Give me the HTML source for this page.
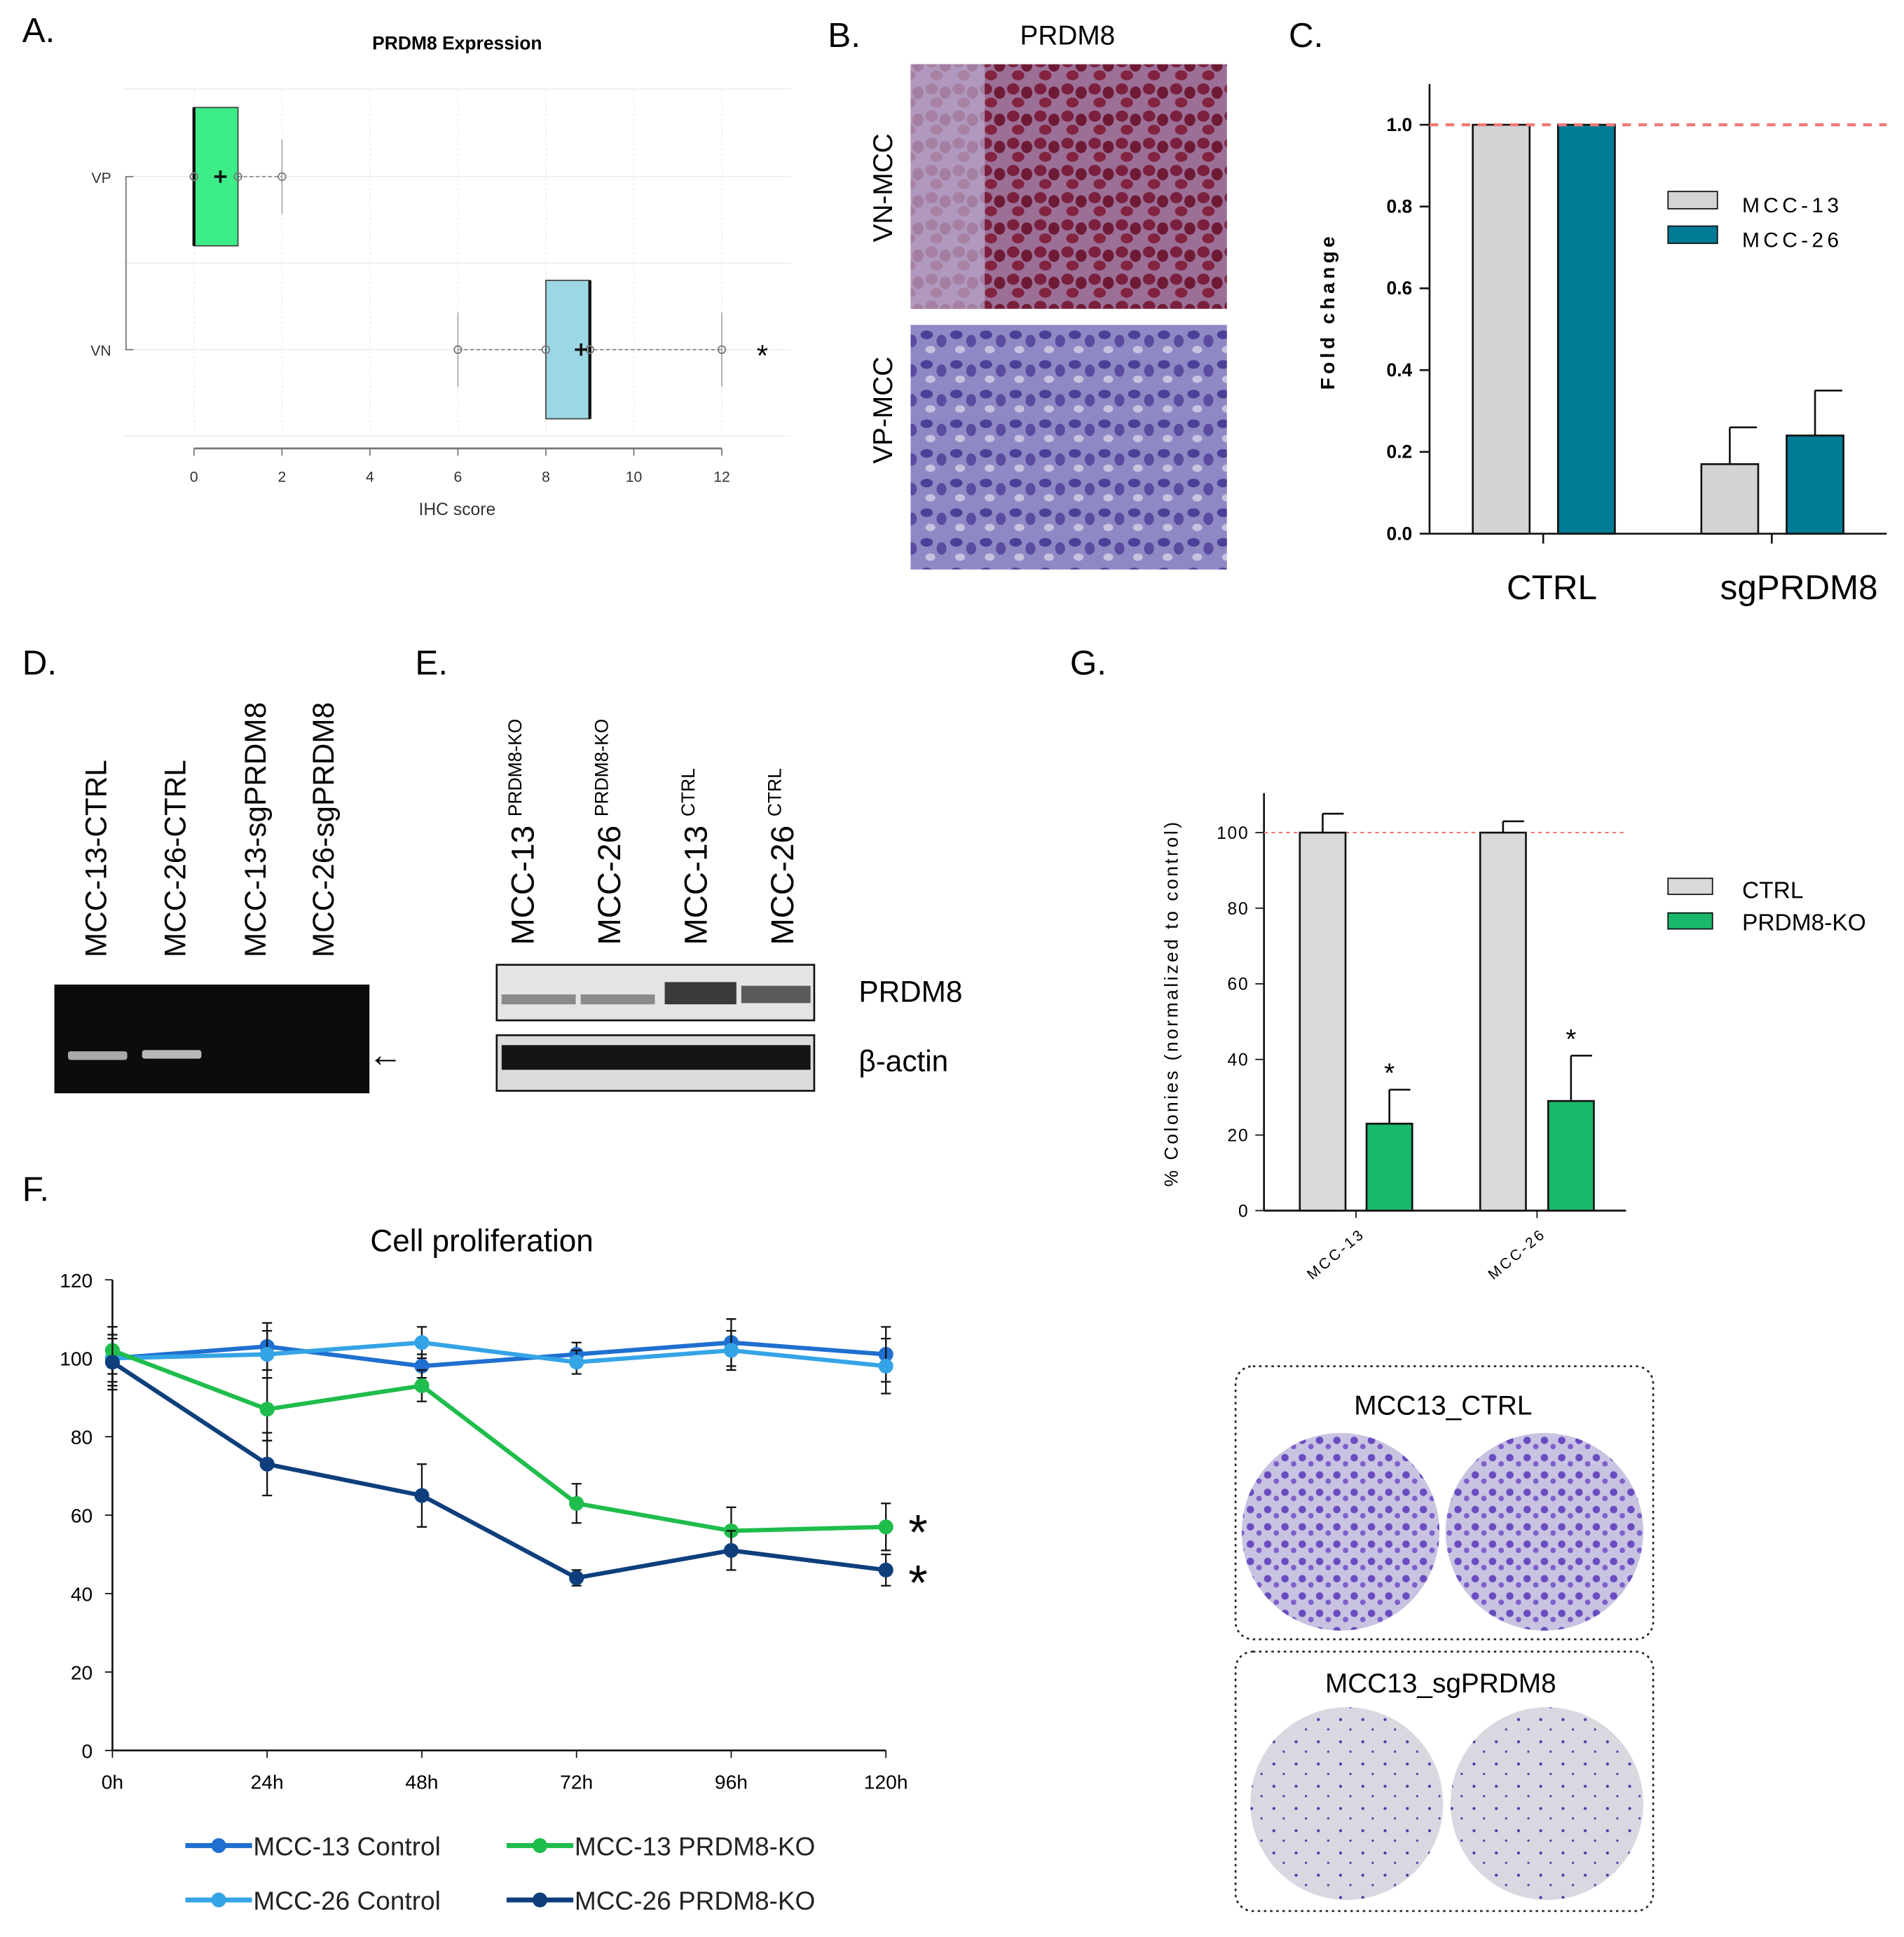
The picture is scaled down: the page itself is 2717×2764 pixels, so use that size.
<!DOCTYPE html>
<html><head><meta charset="utf-8">
<style>
html,body{margin:0;padding:0;background:#fff;}
svg{display:block;font-family:"Liberation Sans",sans-serif;}
</style></head>
<body>
<svg id="fig" width="2717" height="2764" viewBox="0 0 1541 1568" preserveAspectRatio="none" xmlns="http://www.w3.org/2000/svg">
<defs>
<pattern id="vnTissue" width="22" height="22" patternUnits="userSpaceOnUse">
<rect width="22" height="22" fill="#9c6f96"/>
<ellipse cx="6" cy="6" rx="5" ry="4.5" fill="#7a1f3d"/>
<ellipse cx="17" cy="9" rx="4.5" ry="5" fill="#6e1a35"/>
<ellipse cx="10" cy="17" rx="5" ry="4" fill="#82233f"/>
</pattern>
<pattern id="vpTissue" width="24" height="24" patternUnits="userSpaceOnUse">
<rect width="24" height="24" fill="#8e89c4"/>
<ellipse cx="6" cy="7" rx="5" ry="3.5" fill="#4b3f98"/>
<ellipse cx="18" cy="12" rx="4" ry="5" fill="#5a4aa0"/>
<ellipse cx="9" cy="19" rx="4" ry="3" fill="#c8c2e0"/>
</pattern>
<pattern id="colCtrl" width="14" height="14" patternUnits="userSpaceOnUse">
<rect width="14" height="14" fill="#c9c3e2"/>
<circle cx="4" cy="4" r="3" fill="#6a4cc0"/>
<circle cx="11" cy="9" r="2.2" fill="#7d5fcc"/>
</pattern>
<pattern id="colKO" width="18" height="18" patternUnits="userSpaceOnUse">
<rect width="18" height="18" fill="#d8d8e0"/>
<circle cx="5" cy="6" r="1.2" fill="#4a3aa8"/>
<circle cx="13" cy="14" r="0.9" fill="#4a3aa8"/>
</pattern>
</defs>

<text x="18" y="34" font-size="28">A.</text>
<text x="670" y="38" font-size="28">B.</text>
<text x="1043" y="38" font-size="28">C.</text>
<text x="18" y="546" font-size="28">D.</text>
<text x="336" y="546" font-size="28">E.</text>
<text x="866" y="546" font-size="28">G.</text>
<text x="18" y="972" font-size="28">F.</text>

<g id="panelA"></g>

<g>
<text x="864" y="36" font-size="22" text-anchor="middle">PRDM8</text>
<rect x="737" y="52" width="256" height="198" fill="url(#vnTissue)"/>
<rect x="737" y="52" width="60" height="198" fill="#b9a9cf" opacity="0.7"/>
<rect x="737" y="263" width="256" height="198" fill="url(#vpTissue)"/>
<text transform="translate(722,152) rotate(-90)" font-size="22" text-anchor="middle">VN-MCC</text>
<text transform="translate(722,332) rotate(-90)" font-size="22" text-anchor="middle">VP-MCC</text>
</g>

<g id="panelC"></g>

<g>
<text transform="translate(86,775) rotate(-90)" font-size="24">MCC-13-CTRL</text>
<text transform="translate(150,775) rotate(-90)" font-size="24">MCC-26-CTRL</text>
<text transform="translate(215,775) rotate(-90)" font-size="24">MCC-13-sgPRDM8</text>
<text transform="translate(270,775) rotate(-90)" font-size="24">MCC-26-sgPRDM8</text>
<rect x="44" y="797" width="255" height="88" fill="#0c0c0c"/>
<rect x="55" y="851" width="48" height="7" fill="#a8a8a8" rx="2"/>
<rect x="115" y="850" width="48" height="7" fill="#b8b8b8" rx="2"/>
<text x="298" y="863" font-size="28">←</text>
</g>

<g>
<text transform="translate(432,765) rotate(-90)" font-size="26">MCC-13 <tspan font-size="15" dy="-10">PRDM8-KO</tspan></text>
<text transform="translate(502,765) rotate(-90)" font-size="26">MCC-26 <tspan font-size="15" dy="-10">PRDM8-KO</tspan></text>
<text transform="translate(572,765) rotate(-90)" font-size="26">MCC-13 <tspan font-size="15" dy="-10">CTRL</tspan></text>
<text transform="translate(642,765) rotate(-90)" font-size="26">MCC-26 <tspan font-size="15" dy="-10">CTRL</tspan></text>
<rect x="402" y="781" width="257" height="45" fill="#e4e4e4" stroke="#111" stroke-width="1.5"/>
<rect x="406" y="805" width="60" height="8" fill="#8a8a8a"/>
<rect x="470" y="805" width="60" height="8" fill="#8a8a8a"/>
<rect x="538" y="795" width="58" height="18" fill="#3a3a3a"/>
<rect x="600" y="798" width="56" height="14" fill="#5a5a5a"/>
<rect x="402" y="838" width="257" height="45" fill="#dcdcdc" stroke="#111" stroke-width="1.5"/>
<rect x="406" y="846" width="250" height="20" fill="#151515"/>
<text x="695" y="811" font-size="24">PRDM8</text>
<text x="695" y="867" font-size="24">β-actin</text>
</g>

<g id="panelG"></g>

<g>
<rect x="1000" y="1106" width="338" height="221" rx="14" fill="none" stroke="#222" stroke-dasharray="2,3" stroke-width="1.5"/>
<text x="1168" y="1145" font-size="22" text-anchor="middle">MCC13_CTRL</text>
<circle cx="1085" cy="1240" r="80" fill="url(#colCtrl)"/>
<circle cx="1250" cy="1240" r="80" fill="url(#colCtrl)"/>
<rect x="1000" y="1337" width="338" height="210" rx="14" fill="none" stroke="#222" stroke-dasharray="2,3" stroke-width="1.5"/>
<text x="1166" y="1370" font-size="22" text-anchor="middle">MCC13_sgPRDM8</text>
<circle cx="1090" cy="1460" r="78" fill="url(#colKO)"/>
<circle cx="1252" cy="1460" r="78" fill="url(#colKO)"/>
</g>

<g id="panelF"></g>
</svg>

<script>
const boxGroups = ['VP', 'VN'];
const boxQ1 = [0, 8];
const boxQ3 = [1, 9];
const boxMedian = [0, 9];
const boxWhiskLo = [0, 6];
const boxWhiskHi = [2, 12];
const boxMean = [0.6, 8.8];
const boxPoints = [[0, 0, 0, 1, 2], [6, 8, 9, 9, 12]];
const boxTicks = [0, 2, 4, 6, 8, 10, 12];
const cCategories = ['CTRL', 'sgPRDM8'];
const cMcc13 = [1.0, 0.17];
const cMcc26 = [1.0, 0.24];
const cMcc13Err = [0, 0.09];
const cMcc26Err = [0, 0.11];
const cTicks = [0.0, 0.2, 0.4, 0.6, 0.8, 1.0];
const gCategories = ['MCC-13', 'MCC-26'];
const gCtrl = [100, 100];
const gKO = [23, 29];
const gCtrlErr = [5, 3];
const gKOErr = [9, 12];
const gTicks = [0, 20, 40, 60, 80, 100];
const fTimes = ['0h', '24h', '48h', '72h', '96h', '120h'];
const fMcc13Ctrl = [100, 103, 98, 101, 104, 101];
const fMcc26Ctrl = [100, 101, 104, 99, 102, 98];
const fMcc13KO = [102, 87, 93, 63, 56, 57];
const fMcc26KO = [99, 73, 65, 44, 51, 46];
const fErr13Ctrl = [8, 6, 3, 3, 6, 7];
const fErr26Ctrl = [6, 6, 4, 3, 5, 7];
const fErr13KO = [6, 8, 4, 5, 6, 6];
const fErr26KO = [6, 8, 8, 2, 5, 4];
const fTicks = [0, 20, 40, 60, 80, 100, 120];

const NS = 'http://www.w3.org/2000/svg';
function mk(parent, tag, attrs, name) {
  const el = document.createElementNS(NS, tag);
  for (const k in attrs) el.setAttribute(k, attrs[k]);
  
  
  parent.appendChild(el);
  return el;
}
function txt(parent, x, y, s, size, name, extra) {
  const t = mk(parent, 'text', Object.assign({x: x, y: y, 'font-size': size}, extra || {}), name);
  t.textContent = s;
  return t;
}

(function () {
  const g = document.getElementById('panelA');
  const xS = v => 157 + v * 35.6;
  const yC = [143, 283];
  txt(g, 370, 40, 'PRDM8 Expression', 15, 'boxplot-title', {'text-anchor': 'middle', 'font-weight': 'bold'});
  [72, 213, 353].forEach(y => mk(g, 'line', {x1: 100, x2: 640, y1: y, y2: y, stroke: '#eee'}, 'grid-h'));
  yC.forEach(y => mk(g, 'line', {x1: 100, x2: 640, y1: y, y2: y, stroke: '#eee'}, 'grid-h'));
  boxTicks.forEach(t => mk(g, 'line', {x1: xS(t), x2: xS(t), y1: 72, y2: 353, stroke: '#eee', 'stroke-dasharray': '2,2'}, 'grid-v'));
  mk(g, 'line', {x1: xS(0), x2: xS(12), y1: 363, y2: 363, stroke: '#777', 'stroke-width': 1.5}, 'x-axis');
  boxTicks.forEach(t => {
    mk(g, 'line', {x1: xS(t), x2: xS(t), y1: 363, y2: 369, stroke: '#777'}, 'x-tick');
    txt(g, xS(t), 390, String(t), 12, 'x-tick-label', {'text-anchor': 'middle', fill: '#333'});
  });
  txt(g, 370, 417, 'IHC score', 14, 'x-axis-title', {'text-anchor': 'middle', fill: '#333'});
  mk(g, 'path', {d: 'M108,143 H102 V283 H108', fill: 'none', stroke: '#777'}, 'y-axis');
  boxGroups.forEach((name, i) => {
    const y = yC[i];
    txt(g, 90, y + 5, name, 12, 'y-tick-label-' + name.toLowerCase(), {'text-anchor': 'end', fill: '#333'});
    mk(g, 'line', {x1: xS(boxWhiskLo[i]), x2: xS(boxWhiskHi[i]), y1: y, y2: y, stroke: '#888', 'stroke-dasharray': '3,2'}, 'whisker');
    [boxWhiskLo[i], boxWhiskHi[i]].forEach(v => mk(g, 'line', {x1: xS(v), x2: xS(v), y1: y - 30, y2: y + 30, stroke: '#aaa'}, 'whisker-cap'));
    mk(g, 'rect', {x: xS(boxQ1[i]), y: y - 56, width: xS(boxQ3[i]) - xS(boxQ1[i]), height: 112, fill: i === 0 ? '#3ded87' : '#9cd7e6', stroke: '#444'}, 'box-' + name.toLowerCase());
    mk(g, 'line', {x1: xS(boxMedian[i]), x2: xS(boxMedian[i]), y1: y - 56, y2: y + 56, stroke: '#111', 'stroke-width': 2.5}, 'median-' + name.toLowerCase());
    boxPoints[i].forEach(v => mk(g, 'circle', {cx: xS(v), cy: y, r: 3, fill: 'none', stroke: '#777'}, 'data-point'));
    const mx = xS(boxMean[i]);
    mk(g, 'path', {d: `M${mx - 5},${y} H${mx + 5} M${mx},${y - 5} V${y + 5}`, stroke: '#111', 'stroke-width': 2}, 'mean-marker');
  });
  txt(g, 617, 296, '*', 24, 'significance-star', {'text-anchor': 'middle'});
})();

(function () {
  const g = document.getElementById('panelC');
  const y0 = 432, ppu = 331, ax = 1157;
  const yS = v => y0 - v * ppu;
  const centers = [1249, 1434];
  mk(g, 'line', {x1: ax, x2: ax, y1: 68, y2: y0, stroke: '#111', 'stroke-width': 1.5}, 'y-axis');
  mk(g, 'line', {x1: ax, x2: 1527, y1: y0, y2: y0, stroke: '#111', 'stroke-width': 1.5}, 'x-axis');
  cTicks.forEach(t => {
    mk(g, 'line', {x1: ax - 8, x2: ax, y1: yS(t), y2: yS(t), stroke: '#111', 'stroke-width': 1.5}, 'y-tick');
    txt(g, ax - 14, yS(t) + 5, t.toFixed(1), 15, 'y-tick-label', {'text-anchor': 'end', 'font-weight': 'bold'});
  });
  txt(g, 0, 0, 'Fold change', 16, 'y-axis-title', {transform: 'translate(1080,252) rotate(-90)', 'text-anchor': 'middle', 'font-weight': 'bold', 'letter-spacing': '3'});
  cCategories.forEach((c, i) => {
    mk(g, 'line', {x1: centers[i], x2: centers[i], y1: y0, y2: y0 + 8, stroke: '#111', 'stroke-width': 1.5}, 'x-tick');
    txt(g, centers[i] + (i ? 22 : 7), 485, c, 28, 'x-tick-label-' + c.toLowerCase(), {'text-anchor': 'middle'});
    [[cMcc13, cMcc13Err, '#d4d4d4', -57], [cMcc26, cMcc26Err, '#007b96', 12]].forEach(([vals, errs, col, off], s) => {
      const x = centers[i] + off, w = 46;
      if (errs[i] > 0) {
        mk(g, 'line', {x1: x + w / 2, x2: x + w / 2, y1: yS(vals[i]), y2: yS(vals[i] + errs[i]), stroke: '#111', 'stroke-width': 1.5}, 'error-bar');
        mk(g, 'line', {x1: x + w / 2, x2: x + w / 2 + 22, y1: yS(vals[i] + errs[i]), y2: yS(vals[i] + errs[i]), stroke: '#111', 'stroke-width': 1.5}, 'error-cap');
      }
      mk(g, 'rect', {x: x, y: yS(vals[i]), width: w, height: y0 - yS(vals[i]), fill: col, stroke: '#111', 'stroke-width': 1.5}, 'bar-' + c.toLowerCase() + '-' + (s ? 'mcc26' : 'mcc13'));
    });
  });
  mk(g, 'line', {x1: ax, x2: 1527, y1: yS(1), y2: yS(1), stroke: '#f07a7a', 'stroke-width': 2.5, 'stroke-dasharray': '7,6'}, 'reference-line');
  mk(g, 'rect', {x: 1350, y: 155, width: 40, height: 14, fill: '#d4d4d4', stroke: '#111'}, 'legend-swatch-mcc13');
  txt(g, 1410, 172, 'MCC-13', 17, 'legend-label-mcc13', {'letter-spacing': '3'});
  mk(g, 'rect', {x: 1350, y: 183, width: 40, height: 14, fill: '#007b96', stroke: '#111'}, 'legend-swatch-mcc26');
  txt(g, 1410, 200, 'MCC-26', 17, 'legend-label-mcc26', {'letter-spacing': '3'});
})();

(function () {
  const g = document.getElementById('panelG');
  const y0 = 980, ppu = 3.06, ax = 1023;
  const yS = v => y0 - v * ppu;
  const ctrlX = [1052, 1198], koX = [1106, 1253], w = 37;
  mk(g, 'line', {x1: ax, x2: ax, y1: 642, y2: y0, stroke: '#111', 'stroke-width': 1.5}, 'y-axis');
  mk(g, 'line', {x1: ax, x2: 1316, y1: y0, y2: y0, stroke: '#111', 'stroke-width': 1.5}, 'x-axis');
  gTicks.forEach(t => {
    mk(g, 'line', {x1: ax - 7, x2: ax, y1: yS(t), y2: yS(t), stroke: '#111'}, 'y-tick');
    txt(g, ax - 12, yS(t) + 5, String(t), 14, 'y-tick-label', {'text-anchor': 'end', 'letter-spacing': '1'});
  });
  txt(g, 0, 0, '% Colonies (normalized to control)', 15, 'y-axis-title', {transform: 'translate(953,812) rotate(-90)', 'text-anchor': 'middle', 'letter-spacing': '2'});
  mk(g, 'line', {x1: ax, x2: 1316, y1: yS(100), y2: yS(100), stroke: '#f07a7a', 'stroke-width': 1.2, 'stroke-dasharray': '3,3'}, 'reference-line');
  gCategories.forEach((c, i) => {
    [[gCtrl, gCtrlErr, ctrlX, '#d9d9d9', 'ctrl'], [gKO, gKOErr, koX, '#1ab86a', 'ko']].forEach(([vals, errs, xs, col, nm]) => {
      const x = xs[i];
      mk(g, 'line', {x1: x + w / 2, x2: x + w / 2, y1: yS(vals[i]), y2: yS(vals[i] + errs[i]), stroke: '#111', 'stroke-width': 1.5}, 'error-bar');
      mk(g, 'line', {x1: x + w / 2, x2: x + w / 2 + 17, y1: yS(vals[i] + errs[i]), y2: yS(vals[i] + errs[i]), stroke: '#111', 'stroke-width': 1.5}, 'error-cap');
      mk(g, 'rect', {x: x, y: yS(vals[i]), width: w, height: y0 - yS(vals[i]), fill: col, stroke: '#111', 'stroke-width': 1.5}, 'bar-' + c.toLowerCase() + '-' + nm);
      if (nm === 'ko') txt(g, x + w / 2, yS(vals[i] + errs[i]) - 6, '*', 22, 'significance-star', {'text-anchor': 'middle'});
    });
    const cx = (ctrlX[i] + koX[i] + w) / 2;
    mk(g, 'line', {x1: cx, x2: cx, y1: y0, y2: y0 + 6, stroke: '#111'}, 'x-tick');
    txt(g, 0, 0, c, 12, 'x-tick-label', {transform: `translate(${cx + 8},${y0 + 20}) rotate(-40)`, 'text-anchor': 'end', 'letter-spacing': '2'});
  });
  mk(g, 'rect', {x: 1350, y: 711, width: 36, height: 13, fill: '#d9d9d9', stroke: '#111'}, 'legend-swatch-ctrl');
  txt(g, 1410, 727, 'CTRL', 19, 'legend-label-ctrl');
  mk(g, 'rect', {x: 1350, y: 739, width: 36, height: 13, fill: '#1ab86a', stroke: '#111'}, 'legend-swatch-ko');
  txt(g, 1410, 753, 'PRDM8-KO', 19, 'legend-label-ko');
})();

(function () {
  const g = document.getElementById('panelF');
  const y0 = 1417, ppu = 3.175, x0 = 91, step = 125.2;
  const yS = v => y0 - v * ppu;
  const xS = i => x0 + i * step;
  txt(g, 390, 1013, 'Cell proliferation', 25, 'chart-title', {'text-anchor': 'middle'});
  mk(g, 'line', {x1: x0, x2: x0, y1: yS(120), y2: y0, stroke: '#111', 'stroke-width': 1.5}, 'y-axis');
  mk(g, 'line', {x1: x0, x2: xS(5), y1: y0, y2: y0, stroke: '#111', 'stroke-width': 1.5}, 'x-axis');
  fTicks.forEach(t => {
    mk(g, 'line', {x1: x0 - 6, x2: x0, y1: yS(t), y2: yS(t), stroke: '#111'}, 'y-tick');
    txt(g, x0 - 16, yS(t) + 6, String(t), 16, 'y-tick-label', {'text-anchor': 'end'});
  });
  fTimes.forEach((t, i) => {
    mk(g, 'line', {x1: xS(i), x2: xS(i), y1: y0, y2: y0 + 6, stroke: '#111'}, 'x-tick');
    txt(g, xS(i), y0 + 31, t, 16, 'x-tick-label', {'text-anchor': 'middle'});
  });
  const series = [
    [fMcc13Ctrl, fErr13Ctrl, '#1f6fd0', 'mcc13-control'],
    [fMcc26Ctrl, fErr26Ctrl, '#35a4e6', 'mcc26-control'],
    [fMcc13KO, fErr13KO, '#1fbd4c', 'mcc13-ko'],
    [fMcc26KO, fErr26KO, '#0e3f7c', 'mcc26-ko']
  ];
  series.forEach(([vals, errs, col, nm]) => {
    vals.forEach((v, i) => {
      mk(g, 'path', {d: `M${xS(i)},${yS(v - errs[i])} V${yS(v + errs[i])} M${xS(i) - 4},${yS(v - errs[i])} h8 M${xS(i) - 4},${yS(v + errs[i])} h8`, stroke: '#111', 'stroke-width': 1.3}, 'error-bar');
    });
    mk(g, 'polyline', {points: vals.map((v, i) => xS(i) + ',' + yS(v)).join(' '), fill: 'none', stroke: col, 'stroke-width': 3.5}, 'line-' + nm);
    vals.forEach((v, i) => mk(g, 'circle', {cx: xS(i), cy: yS(v), r: 6, fill: col}, 'point-' + nm));
  });
  txt(g, 743, yS(fMcc13KO[5]) + 18, '*', 40, 'star-mcc13-ko', {'text-anchor': 'middle'});
  txt(g, 743, yS(fMcc26KO[5]) + 24, '*', 40, 'star-mcc26-ko', {'text-anchor': 'middle'});
  const leg = [[150, 1494, '#1f6fd0', 'MCC-13 Control'], [150, 1538, '#35a4e6', 'MCC-26 Control'], [410, 1494, '#1fbd4c', 'MCC-13 PRDM8-KO'], [410, 1538, '#0e3f7c', 'MCC-26 PRDM8-KO']];
  leg.forEach(([x, y, col, lab]) => {
    mk(g, 'line', {x1: x, x2: x + 54, y1: y, y2: y, stroke: col, 'stroke-width': 4}, 'legend-line');
    mk(g, 'circle', {cx: x + 27, cy: y, r: 6, fill: col}, 'legend-marker');
    txt(g, x + 55, y + 8, lab, 21, 'legend-label', {fill: '#222'});
  });
})();
</script>
</body></html>
